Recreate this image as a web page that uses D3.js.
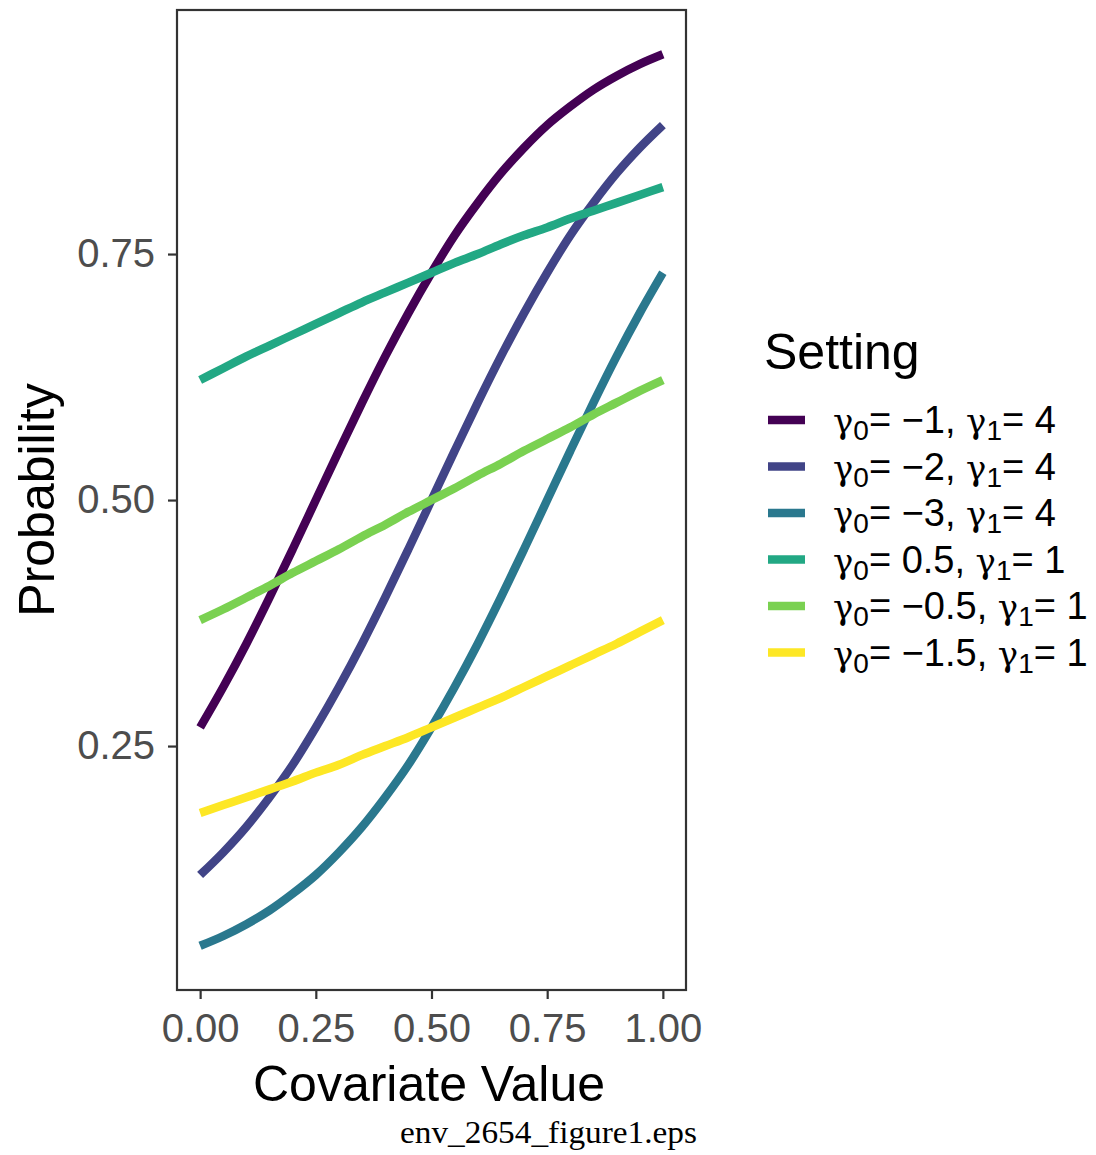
<!DOCTYPE html>
<html lang="en">
<head>
<meta charset="UTF-8">
<title>Probability vs covariate</title>
<script src="https://cdn.jsdelivr.net/npm/d3@7"></script>
<style>
  body { margin: 0; background: #fff; }
  svg text { font-family: 'Liberation Sans', Arial, sans-serif; }
</style>
</head>
<body>
<svg id="chart" width="1096" height="1155"></svg>
<script>
// covariate grid and probabilities
const xs = [0, 0.05, 0.1, 0.15, 0.2, 0.25, 0.3, 0.35, 0.4, 0.45, 0.5,
            0.55, 0.6, 0.65, 0.7, 0.75, 0.8, 0.85, 0.9, 0.95, 1.0];
const setA = [0.269, 0.310, 0.354, 0.401, 0.450, 0.500, 0.550, 0.599, 0.646, 0.690, 0.731,
              0.769, 0.802, 0.832, 0.858, 0.881, 0.900, 0.917, 0.931, 0.943, 0.953];
const setB = [0.119, 0.142, 0.168, 0.198, 0.231, 0.269, 0.310, 0.354, 0.401, 0.450, 0.500,
              0.550, 0.599, 0.646, 0.690, 0.731, 0.769, 0.802, 0.832, 0.858, 0.881];
const setC = [0.047, 0.057, 0.069, 0.083, 0.100, 0.119, 0.142, 0.168, 0.198, 0.231, 0.269,
              0.310, 0.354, 0.401, 0.450, 0.500, 0.550, 0.599, 0.646, 0.690, 0.731];
const setD = [0.622, 0.634, 0.646, 0.657, 0.668, 0.679, 0.690, 0.701, 0.711, 0.721, 0.731,
              0.741, 0.750, 0.760, 0.769, 0.777, 0.786, 0.794, 0.802, 0.810, 0.818];
const setE = [0.378, 0.389, 0.401, 0.413, 0.426, 0.438, 0.450, 0.463, 0.475, 0.488, 0.500,
              0.512, 0.525, 0.537, 0.550, 0.562, 0.574, 0.587, 0.599, 0.611, 0.622];
const setF = [0.182, 0.190, 0.198, 0.206, 0.214, 0.223, 0.231, 0.241, 0.250, 0.259, 0.269,
              0.279, 0.289, 0.299, 0.310, 0.321, 0.332, 0.343, 0.354, 0.366, 0.378];

// legend labels: gamma0 and gamma1 per setting
const g0Labels = ["\u22121", "\u22122", "\u22123", "0.5", "\u22120.5", "\u22121.5"];
const g1Labels = ["4", "4", "4", "1", "1", "1"];
const colors = ["#440154", "#414487", "#2A788E", "#22A884", "#7AD151", "#FDE725"];

const xTicks = [0, 0.25, 0.5, 0.75, 1];
const yTicks = [0.25, 0.5, 0.75];

const series = [setA, setB, setC, setD, setE, setF];

const svg = d3.select("#chart");
const panel = {left: 177, right: 686, top: 10, bottom: 990};

const x = d3.scaleLinear().domain([-0.05, 1.05]).range([panel.left, panel.right]);
const y = d3.scaleLinear().domain([0.0021, 0.998]).range([panel.bottom, panel.top]);

// lines
const line = d3.line()
    .x((d, i) => x(xs[i]))
    .y(d => y(d))
    .curve(d3.curveMonotoneX);

svg.append("g")
    .selectAll("path")
    .data(series)
    .enter()
    .append("path")
    .attr("d", line)
    .attr("fill", "none")
    .attr("stroke", (d, i) => colors[i])
    .attr("stroke-width", 8.5);

// panel border
svg.append("rect")
    .attr("x", panel.left).attr("y", panel.top)
    .attr("width", panel.right - panel.left)
    .attr("height", panel.bottom - panel.top)
    .attr("fill", "none")
    .attr("stroke", "#333")
    .attr("stroke-width", 2.2);

// axes
const xAxis = d3.axisBottom(x).tickValues(xTicks).tickFormat(d3.format(".2f"))
    .tickSizeInner(9).tickSizeOuter(0).tickPadding(15);
const gx = svg.append("g").attr("transform", `translate(0,${panel.bottom})`).call(xAxis);

const yAxis = d3.axisLeft(y).tickValues(yTicks).tickFormat(d3.format(".2f"))
    .tickSizeInner(9).tickSizeOuter(0).tickPadding(13);
const gy = svg.append("g").attr("transform", `translate(${panel.left},0)`).call(yAxis);

[gx, gy].forEach(g => {
    g.select(".domain").remove();
    g.selectAll(".tick line").attr("stroke", "#333").attr("stroke-width", 2.2);
    g.selectAll(".tick text")
        .attr("fill", "#4D4D4D")
        .style("font-size", "40px")
        .style("font-family", "'Liberation Sans', Arial, sans-serif");
});
gx.selectAll(".tick text").attr("dy", "0.71em");

// axis titles
svg.append("text")
    .attr("x", 429)
    .attr("y", 1101)
    .attr("text-anchor", "middle")
    .style("font-size", "50px")
    .text("Covariate Value");

svg.append("text")
    .attr("transform", "translate(54,500) rotate(-90)")
    .attr("text-anchor", "middle")
    .style("font-size", "50px")
    .text("Probability");

// legend
svg.append("text")
    .attr("x", 764).attr("y", 369)
    .style("font-size", "50px")
    .text("Setting");

const rowGap = 46.5;
const leg = svg.append("g")
    .selectAll("g")
    .data(g0Labels)
    .enter()
    .append("g")
    .attr("transform", (d, i) => `translate(0,${420 + i * rowGap})`);

leg.append("line")
    .attr("x1", 768).attr("x2", 805)
    .attr("y1", 0).attr("y2", 0)
    .attr("stroke", (d, i) => colors[i])
    .attr("stroke-width", 8.5);

const lt = leg.append("text")
    .attr("x", 833).attr("y", 13)
    .style("font-size", "38px");

const gammaFont = "'DejaVu Serif', 'Liberation Serif', serif";
lt.each(function (d, i) {
    const t = d3.select(this);
    t.append("tspan").style("font-family", gammaFont).style("font-size", "34px").text("\u03B3");
    t.append("tspan").attr("dy", 7).style("font-size", "28px").text("0");
    t.append("tspan").attr("dy", -7).text("= " + d + ", ");
    t.append("tspan").style("font-family", gammaFont).style("font-size", "34px").text("\u03B3");
    t.append("tspan").attr("dy", 7).style("font-size", "28px").text("1");
    t.append("tspan").attr("dy", -7).text("= " + g1Labels[i]);
});

// caption
svg.append("text")
    .attr("x", 400).attr("y", 1143)
    .attr("textLength", 297)
    .attr("lengthAdjust", "spacingAndGlyphs")
    .style("font-family", "'Liberation Serif', 'DejaVu Serif', serif")
    .style("font-size", "31px")
    .text("env_2654_figure1.eps");
</script>
</body>
</html>
